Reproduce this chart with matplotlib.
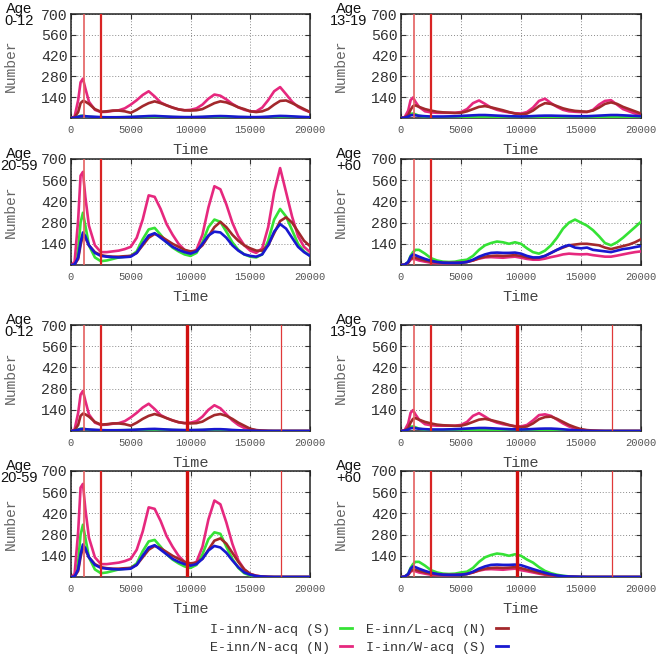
import matplotlib
matplotlib.use("Agg")
import matplotlib.pyplot as plt

# ---------------- data ----------------
time = [0, 300, 600, 800, 1000, 1200, 1500, 2000,
        2500, 3000, 3500, 4000, 4500, 5000, 5500, 6000, 6500, 7000, 7500, 8000, 8500, 9000, 9500,
        10000, 10500, 11000, 11500, 12000, 12500, 13000, 13500, 14000, 14500, 15000, 15500,
        16000, 16500, 17000, 17500, 18000, 18500, 19000, 19500, 20000]

series_labels = ["I-inn/N-acq (S)", "E-inn/N-acq (N)", "E-inn/L-acq (N)", "I-inn/W-acq (S)"]
series_colors = ["#35e235", "#e6287e", "#a3282c", "#1818d0"]

age_labels = ["Age\n0-12", "Age\n13-19", "Age\n20-59", "Age\n+60"]

# Scenario 1 (rows 1-2)
A_green = [0, 2, 10, 15, 15, 12, 8, 5, 4, 4, 4, 5, 5, 6, 7, 8, 9, 9, 8, 7, 6, 5, 5,
           5, 5, 6, 7, 8, 8, 7, 6, 5, 5, 4, 4, 5, 6, 8, 9, 8, 7, 5, 4, 3]
A_magenta = [0, 10, 120, 240, 265, 200, 110, 55, 40, 42, 48, 52, 65, 90, 120, 155, 180, 145, 105, 85, 70, 58, 52,
             55, 65, 90, 130, 158, 150, 125, 95, 72, 55, 45, 45, 70, 120, 180, 208, 160, 110, 75, 55, 40]
A_brown = [0, 5, 40, 100, 115, 110, 95, 60, 42, 45, 50, 50, 45, 35, 55, 80, 100, 112, 100, 85, 70, 58, 52,
           50, 52, 60, 80, 100, 112, 105, 90, 72, 60, 45, 40, 45, 60, 90, 115, 118, 100, 80, 60, 40]
A_blue = [0, 2, 8, 12, 14, 12, 10, 8, 6, 5, 5, 5, 6, 7, 9, 11, 13, 14, 12, 10, 8, 7, 6,
          6, 7, 8, 10, 12, 13, 12, 10, 8, 7, 6, 6, 7, 9, 12, 14, 13, 11, 9, 7, 5]

B_green = [0, 2, 15, 28, 30, 25, 15, 8, 6, 5, 5, 5, 5, 6, 7, 8, 9, 9, 8, 7, 6, 5, 5,
           5, 5, 6, 7, 8, 8, 7, 6, 5, 5, 5, 5, 6, 7, 8, 8, 7, 6, 5, 4, 3]
B_magenta = [0, 5, 50, 120, 138, 110, 75, 45, 38, 35, 35, 35, 35, 40, 60, 100, 118, 95, 70, 55, 45, 38, 32,
             30, 40, 70, 115, 130, 100, 75, 55, 45, 42, 40, 40, 55, 90, 115, 120, 90, 60, 45, 30, 20]
B_brown = [0, 3, 20, 55, 80, 85, 75, 60, 50, 42, 38, 36, 34, 35, 45, 60, 75, 80, 72, 62, 52, 40, 30,
           25, 30, 50, 80, 100, 95, 80, 65, 55, 48, 45, 42, 50, 70, 95, 105, 95, 75, 60, 45, 30]
B_blue = [0, 2, 10, 18, 20, 18, 15, 12, 10, 10, 10, 11, 12, 14, 16, 18, 20, 20, 18, 16, 14, 12, 11,
          10, 11, 13, 15, 16, 16, 15, 14, 13, 12, 12, 12, 14, 16, 18, 20, 20, 18, 16, 14, 12]

C_green = [0, 5, 100, 280, 345, 260, 130, 50, 25, 30, 40, 50, 55, 60, 90, 170, 235, 245, 200, 150, 115, 90, 70,
           60, 80, 150, 250, 300, 285, 220, 150, 100, 70, 55, 50, 70, 160, 300, 370, 320, 230, 140, 90, 60]
C_magenta = [0, 20, 300, 590, 615, 450, 260, 130, 85, 85, 90, 95, 105, 120, 180, 300, 460, 450, 370, 270, 200, 140, 100,
             80, 100, 200, 380, 520, 500, 400, 280, 190, 130, 95, 80, 110, 250, 480, 640, 480, 320, 190, 120, 85]
C_brown = [0, 3, 40, 130, 200, 180, 130, 85, 65, 58, 55, 55, 58, 60, 80, 130, 180, 205, 190, 165, 140, 120, 100,
           90, 95, 130, 190, 250, 285, 250, 200, 160, 130, 110, 95, 95, 130, 210, 290, 315, 280, 220, 160, 125]
C_blue = [0, 3, 50, 150, 215, 190, 130, 80, 60, 55, 52, 50, 52, 55, 80, 140, 195, 210, 180, 150, 120, 100, 85,
          75, 90, 140, 195, 220, 215, 180, 130, 95, 70, 60, 55, 70, 130, 220, 270, 240, 180, 120, 85, 60]

D_green = [0, 2, 20, 60, 85, 100, 100, 75, 45, 30, 22, 20, 22, 30, 35, 60, 100, 130, 145, 155, 150, 140, 150,
           140, 110, 85, 75, 95, 130, 180, 240, 280, 300, 280, 260, 230, 190, 145, 130, 150, 180, 215, 250, 285]
D_magenta = [0, 2, 15, 35, 42, 38, 30, 22, 15, 12, 12, 12, 13, 15, 20, 30, 42, 50, 52, 50, 48, 52, 55,
             48, 40, 35, 35, 42, 52, 60, 70, 75, 72, 70, 72, 65, 60, 55, 55, 62, 70, 78, 85, 90]
D_brown = [0, 2, 15, 40, 50, 48, 40, 30, 22, 18, 15, 14, 14, 15, 20, 30, 45, 55, 60, 62, 60, 62, 65,
           60, 50, 45, 48, 60, 80, 100, 115, 130, 135, 140, 140, 135, 130, 115, 105, 115, 125, 135, 150, 170]
D_blue = [0, 2, 20, 55, 70, 65, 55, 40, 28, 20, 15, 14, 14, 15, 20, 35, 55, 70, 80, 82, 80, 80, 82,
          75, 60, 50, 50, 60, 80, 100, 120, 132, 115, 110, 115, 100, 95, 90, 85, 95, 105, 110, 118, 125]

# Scenario 2 (rows 3-4): identical to scenario 1 up to t=9500, values from t=10000 on
E_green_tail = [5, 5, 6, 7, 8, 7, 5, 4, 3, 2, 1, 0, 0, 0, 0, 0, 0, 0, 0, 0, 0]
E_magenta_tail = [55, 65, 95, 140, 170, 150, 110, 70, 40, 20, 10, 5, 2, 0, 0, 0, 0, 0, 0, 0, 0]
E_brown_tail = [50, 52, 62, 85, 105, 112, 100, 80, 55, 35, 15, 6, 3, 1, 0, 0, 0, 0, 0, 0, 0]
E_blue_tail = [6, 7, 8, 10, 12, 12, 10, 7, 5, 3, 2, 1, 0, 0, 0, 0, 0, 0, 0, 0, 0]

F_green_tail = [5, 5, 6, 7, 8, 8, 7, 5, 3, 2, 1, 0, 0, 0, 0, 0, 0, 0, 0, 0, 0]
F_magenta_tail = [30, 40, 70, 105, 110, 100, 75, 50, 30, 15, 8, 4, 2, 1, 0, 0, 0, 0, 0, 0, 0]
F_brown_tail = [25, 30, 50, 78, 92, 95, 80, 60, 40, 25, 12, 6, 3, 1, 0, 0, 0, 0, 0, 0, 0]
F_blue_tail = [10, 11, 13, 15, 16, 16, 14, 11, 8, 5, 3, 1, 0, 0, 0, 0, 0, 0, 0, 0, 0]

G_green_tail = [60, 80, 150, 250, 295, 285, 200, 120, 60, 25, 10, 4, 1, 0, 0, 0, 0, 0, 0, 0, 0]
G_magenta_tail = [80, 100, 200, 380, 505, 480, 360, 220, 110, 50, 20, 8, 3, 1, 0, 0, 0, 0, 0, 0, 0]
G_brown_tail = [90, 95, 120, 180, 240, 255, 220, 160, 100, 50, 20, 8, 3, 1, 0, 0, 0, 0, 0, 0, 0]
G_blue_tail = [75, 85, 120, 175, 205, 195, 160, 110, 65, 30, 15, 6, 3, 1, 0, 0, 0, 0, 0, 0, 0]

H_green_tail = [140, 115, 95, 65, 40, 25, 15, 8, 4, 2, 1, 0, 0, 0, 0, 0, 0, 0, 0, 0, 0]
H_magenta_tail = [45, 38, 30, 22, 15, 10, 6, 3, 2, 1, 0, 0, 0, 0, 0, 0, 0, 0, 0, 0, 0]
H_brown_tail = [58, 48, 38, 28, 20, 12, 7, 4, 2, 1, 0, 0, 0, 0, 0, 0, 0, 0, 0, 0, 0]
H_blue_tail = [78, 65, 52, 40, 28, 18, 10, 6, 3, 2, 1, 0, 0, 0, 0, 0, 0, 0, 0, 0, 0]

split = 23  # index of t=10000

# vertical event lines: (time, linewidth, colour)
events_top = [(1100, 1.2, "#e46060"), (2500, 1.6, "#d82424")]
events_bottom = events_top + [(9700, 2.4, "#d01010"), (17600, 0.9, "#e03a3a")]

xticks = [0, 5000, 10000, 15000, 20000]
yticks = [140, 280, 420, 560, 700]

# ---------------- figure ----------------
W, H = 662, 655
fig = plt.figure(figsize=(W / 100, H / 100), dpi=100)

mono = "Liberation Mono"
sans = "Liberation Sans"

col_x = [(71, 310), (401, 641)]
row_y = [(14, 118), (159, 265), (325, 431), (471, 577)]


def panel_data(i):
    s1 = [(A_green, A_magenta, A_brown, A_blue), (B_green, B_magenta, B_brown, B_blue),
          (C_green, C_magenta, C_brown, C_blue), (D_green, D_magenta, D_brown, D_blue)]
    tails = [(E_green_tail, E_magenta_tail, E_brown_tail, E_blue_tail),
             (F_green_tail, F_magenta_tail, F_brown_tail, F_blue_tail),
             (G_green_tail, G_magenta_tail, G_brown_tail, G_blue_tail),
             (H_green_tail, H_magenta_tail, H_brown_tail, H_blue_tail)]
    if i < 4:
        return s1[i], events_top
    k = i - 4
    return tuple(h[:split] + t for h, t in zip(s1[k], tails[k])), events_bottom


legend_handles = None
for i in range(8):
    r, c = divmod(i, 2)
    x0, x1 = col_x[c]
    yt, yb = row_y[r]
    ax = fig.add_axes([x0 / W, 1 - yb / H, (x1 - x0) / W, (yb - yt) / H])
    data, events = panel_data(i)
    handles = []
    for vals, col, lab in zip(data, series_colors, series_labels):
        h, = ax.plot(time, vals, color=col, lw=1.9, label=lab, zorder=3,
                     solid_joinstyle="round")
        handles.append(h)
    if legend_handles is None:
        legend_handles = handles
    for (et, lw, ec) in events:
        ax.axvline(et, color=ec, lw=lw, zorder=4)
    ax.set_xlim(0, 20000)
    ax.set_ylim(0, 700)
    ax.set_xticks(xticks)
    ax.set_yticks(yticks)
    ax.grid(True, color="#8a8a8a", lw=0.7, ls=(0, (1, 2)), zorder=1)
    ax.tick_params(axis="both", direction="in", length=3.5, width=0.8, color="#333333",
                   top=True, right=True)
    ax.tick_params(axis="x", labelsize=7.6, labelcolor="#555555", pad=5)
    ax.tick_params(axis="y", labelsize=10.7, labelcolor="#333333", pad=2.5)
    for lab in ax.get_xticklabels() + ax.get_yticklabels():
        lab.set_fontfamily(mono)
    for sp in ax.spines.values():
        sp.set_linewidth(1.1)
        sp.set_color("#222222")
    ax.set_xlabel("Time", fontfamily=mono, fontsize=11, color="#444444")
    ax.xaxis.set_label_coords(0.5, -0.24)
    ax.set_ylabel("Number", fontfamily=mono, fontsize=10.5, color="#666666")
    ax.yaxis.set_label_coords(-53 / (x1 - x0), 0.5)
    fig.text((x0 - 52) / W, 1 - (yt + 1) / H, age_labels[i % 4], ha="center", va="center",
             fontfamily=sans, fontsize=10.5, linespacing=0.85, color="#111111")

leg = fig.legend(handles=legend_handles, labels=series_labels, ncol=2, markerfirst=False,
                 frameon=False, loc="center", bbox_to_anchor=(359 / W, 1 - 638.5 / H),
                 prop={"family": mono, "size": 9.6}, handlelength=0.9, handletextpad=0.75,
                 columnspacing=1.1, labelspacing=0.42)
for t in leg.get_texts():
    t.set_color("#333333")
for lh in leg.legend_handles:
    lh.set_linewidth(2)

fig.savefig("out.png", dpi=100)
